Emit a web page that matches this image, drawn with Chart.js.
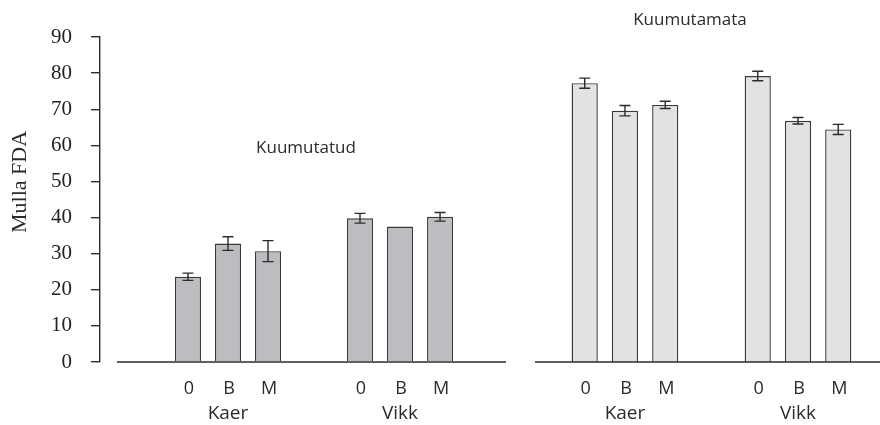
<!DOCTYPE html>
<html>
<head>
<meta charset="utf-8">
<script src="https://cdn.jsdelivr.net/npm/chart.js@4.4.0/dist/chart.umd.min.js"></script>
<style>
  html, body { margin: 0; padding: 0; background: #fff; }
  #wrap { position: relative; width: 880px; height: 425px; }
  #leftBox { position: absolute; left: 0; top: 0; width: 520px; height: 425px; }
  #rightBox { position: absolute; left: 520px; top: 0; width: 360px; height: 425px; }
</style>
</head>
<body>
<div id="wrap">
  <div id="leftBox"><canvas id="heatedChart"></canvas></div>
  <div id="rightBox"><canvas id="unheatedChart"></canvas></div>
</div>
<script>
// Data
const groups = ['Kaer', 'Vikk'];
const treatments = ['0', 'B', 'M'];
const yTicks = [0, 10, 20, 30, 40, 50, 60, 70, 80, 90];

// Kuumutatud (heated) - one array per treatment, values for [Kaer, Vikk]
const heated0 = [23.6, 39.8];
const heatedB = [32.8, 37.5];
const heatedM = [30.7, 40.2];
const heatedErr0 = [1.0, 1.35];
const heatedErrB = [1.9, 0];
const heatedErrM = [2.9, 1.2];

// Kuumutamata (unheated)
const unheated0 = [77.2, 79.2];
const unheatedB = [69.6, 66.8];
const unheatedM = [71.2, 64.4];
const unheatedErr0 = [1.4, 1.3];
const unheatedErrB = [1.45, 0.9];
const unheatedErrM = [1.0, 1.4];

const sansFont = "'Open Sans', sans-serif";
const serifFont = "'Liberation Serif', serif";
const inkColor = '#2b2b2b';

// error bars, sub-labels (0 B M), baseline and free text
const extrasPlugin = {
    id: 'extras',
    afterDatasetsDraw(chart, args, opts) {
        const ctx = chart.ctx;
        const area = chart.chartArea;
        const yScale = chart.scales.y;
        ctx.save();

        // baseline
        ctx.strokeStyle = inkColor;
        ctx.lineWidth = 1.5;
        ctx.beginPath();
        ctx.moveTo(area.left + opts.baseInset, area.bottom);
        ctx.lineTo(area.right, area.bottom);
        ctx.stroke();

        chart.data.datasets.forEach((ds, di) => {
            const meta = chart.getDatasetMeta(di);
            // error bars
            ctx.lineWidth = 1.4;
            meta.data.forEach((bar, i) => {
                const err = ds.errors[i];
                if (!err) return;
                const yTop = yScale.getPixelForValue(ds.data[i].y + err);
                const yBot = yScale.getPixelForValue(ds.data[i].y - err);
                ctx.beginPath();
                ctx.moveTo(bar.x, yTop);
                ctx.lineTo(bar.x, yBot);
                ctx.moveTo(bar.x - 5.5, yTop);
                ctx.lineTo(bar.x + 5.5, yTop);
                ctx.moveTo(bar.x - 5.5, yBot);
                ctx.lineTo(bar.x + 5.5, yBot);
                ctx.stroke();
            });

            // treatment label under each bar
            ctx.fillStyle = inkColor;
            ctx.font = '18px ' + sansFont;
            ctx.textAlign = 'center';
            ctx.textBaseline = 'middle';
            meta.data.forEach(bar => {
                ctx.fillText(ds.label, bar.x + 1, area.bottom + 27);
            });
        });

        // panel titles etc.
        (opts.texts || []).forEach(t => {
            ctx.save();
            ctx.fillStyle = inkColor;
            ctx.font = t.font;
            ctx.textAlign = 'center';
            ctx.textBaseline = 'middle';
            ctx.translate(t.x, t.y);
            if (t.rotate) ctx.rotate(t.rotate);
            ctx.fillText(t.text, 0, 0);
            ctx.restore();
        });
        ctx.restore();
    }
};

function makeDatasets(values, errors, fill) {
    return treatments.map((t, i) => ({
        label: t,
        data: groups.map((g, gi) => ({ x: gi + 1, y: values[i][gi] })),
        errors: errors[i],
        backgroundColor: fill,
        borderColor: '#3a3a3a',
        borderWidth: 1.4,
        borderSkipped: 'bottom',
        categoryPercentage: 0.698,
        barPercentage: 0.65
    }));
}

function makeOptions(cfg) {
    return {
        responsive: true,
        maintainAspectRatio: false,
        animation: false,
        layout: { padding: cfg.padding },
        plugins: {
            legend: { display: false },
            tooltip: { enabled: false },
            extras: { baseInset: cfg.baseInset, texts: cfg.texts }
        },
        scales: {
            x: {
                type: 'linear',
                min: cfg.xMin,
                max: cfg.xMax,
                offset: false,
                grid: { display: false, drawTicks: false },
                border: { display: false },
                afterBuildTicks: scale => {
                    scale.ticks = groups.map((g, i) => ({ value: i + 1 }));
                },
                afterFit: scale => { scale.height = 63; },
                ticks: {
                    callback: v => groups[v - 1],
                    color: inkColor,
                    font: { family: sansFont, size: 19 },
                    padding: 40,
                    autoSkip: false,
                    maxRotation: 0
                }
            },
            y: {
                display: cfg.showY,
                min: 0,
                max: 90,
                afterBuildTicks: scale => {
                    scale.ticks = yTicks.map(v => ({ value: v }));
                },
                afterFit: scale => { if (cfg.showY) scale.width = 100; },
                grid: {
                    display: true,
                    drawOnChartArea: false,
                    drawTicks: true,
                    tickLength: 9,
                    color: inkColor,
                    lineWidth: 1.4
                },
                border: { display: true, color: inkColor, width: 1.4 },
                ticks: {
                    color: '#222',
                    font: { family: serifFont, size: 21 },
                    padding: 19
                }
            }
        }
    };
}

new Chart(document.getElementById('heatedChart'), {
    type: 'bar',
    data: {
        datasets: makeDatasets([heated0, heatedB, heatedM], [heatedErr0, heatedErrB, heatedErrM], '#bcbdc0')
    },
    options: makeOptions({
        padding: { top: 37, right: 14, left: 0, bottom: 0 },
        xMin: 0.256, xMax: 2.616,
        baseInset: 17,
        showY: true,
        texts: [
            { text: 'Kuumutatud', x: 306, y: 148, font: '17px ' + sansFont },
            { text: 'Mulla FDA', x: 20, y: 182, font: '22px ' + serifFont, rotate: -Math.PI / 2 }
        ]
    }),
    plugins: [extrasPlugin]
});

new Chart(document.getElementById('unheatedChart'), {
    type: 'bar',
    data: {
        datasets: makeDatasets([unheated0, unheatedB, unheatedM], [unheatedErr0, unheatedErrB, unheatedErrM], '#e1e2e4')
    },
    options: makeOptions({
        padding: { top: 37, right: 0, left: 15, bottom: 0 },
        xMin: 0.48, xMax: 2.474,
        baseInset: 0,
        showY: false,
        texts: [
            { text: 'Kuumutamata', x: 170, y: 20, font: '17px ' + sansFont }
        ]
    }),
    plugins: [extrasPlugin]
});
</script>
</body>
</html>
